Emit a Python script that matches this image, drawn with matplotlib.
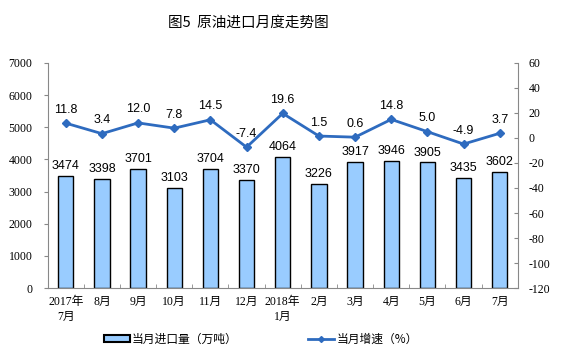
import matplotlib
matplotlib.use('Agg')
import matplotlib.pyplot as plt
from matplotlib.patches import Patch
from matplotlib.lines import Line2D

plt.rcParams['axes.unicode_minus'] = False

months = ['2017年\n7月', '8月', '9月', '10月', '11月', '12月', '2018年\n1月',
          '2月', '3月', '4月', '5月', '6月', '7月']
imports = [3474, 3398, 3701, 3103, 3704, 3370, 4064, 3226, 3917, 3946, 3905, 3435, 3602]
growth = [11.8, 3.4, 12.0, 7.8, 14.5, -7.4, 19.6, 1.5, 0.6, 14.8, 5.0, -4.9, 3.7]

serif = ['Liberation Serif', 'Noto Sans CJK SC']
cjk = ['Noto Sans CJK SC', 'DejaVu Sans']
sans = ['Liberation Sans', 'DejaVu Sans']

fig = plt.figure(figsize=(5.61, 3.57), dpi=100)
ax = fig.add_axes([0.085, 0.193, 0.838, 0.631])
x = range(len(months))
ax.bar(x, imports, width=0.42, color='#99ccff', edgecolor='black', linewidth=1.0, zorder=2)
for i, v in enumerate(imports):
    ax.text(i, v + 120, str(v), ha='center', va='bottom', fontsize=9, family=sans)
ax.set_xlim(-0.5, len(months) - 0.5)
ax.set_ylim(0, 7000)
ax.set_yticks(range(0, 7001, 1000))
ax.set_xticks(list(x))
ax.set_xticklabels(months, family=serif, fontsize=8.5, linespacing=1.3)
ax.tick_params(axis='x', length=0, pad=6)
ax.set_xticks([i + 0.5 for i in range(len(months) - 1)], minor=True)
ax.tick_params(axis='x', which='minor', length=3, direction='in', color='#888888')
ax.tick_params(axis='y', length=3, direction='out', labelsize=8.5, color='#888888', pad=8)
for lb in ax.get_yticklabels():
    lb.set_family(serif)
for s in ['top', 'right']:
    ax.spines[s].set_visible(False)
ax.spines['left'].set_color('#888888')
ax.spines['bottom'].set_color('#888888')

ax2 = ax.twinx()
ax2.plot(list(x), growth, color='#2e6bbf', linewidth=2, marker='D', markersize=4, zorder=3)
for i, v in enumerate(growth):
    ax2.text(i, v + 6, '%.1f' % v, ha='center', va='bottom', fontsize=9, family=sans)
ax2.set_ylim(-120, 60)
ax2.set_yticks(range(-120, 61, 20))
ax2.tick_params(axis='y', length=3, direction='in', labelsize=8.5, color='#888888', pad=8)
for lb in ax2.get_yticklabels():
    lb.set_family(serif)
for s in ['top', 'left', 'bottom']:
    ax2.spines[s].set_visible(False)
ax2.spines['right'].set_color('#888888')

fig.text(0.442, 0.935, '图5  原油进口月度走势图', ha='center', va='center', fontsize=10.5,
         family=cjk)

handles = [Patch(facecolor='#99ccff', edgecolor='black', linewidth=1.5),
           Line2D([0], [0], color='#2e6bbf', linewidth=2, marker='D', markersize=3)]
fig.legend(handles, ['当月进口量（万吨）', '当月增速（%）'], loc='center', ncol=2,
           bbox_to_anchor=(0.465, 0.05), frameon=False, prop={'family': cjk, 'size': 8.5},
           handlelength=2.2, handleheight=0.6, columnspacing=6, handletextpad=0.2)

fig.savefig('out.png', dpi=100)
